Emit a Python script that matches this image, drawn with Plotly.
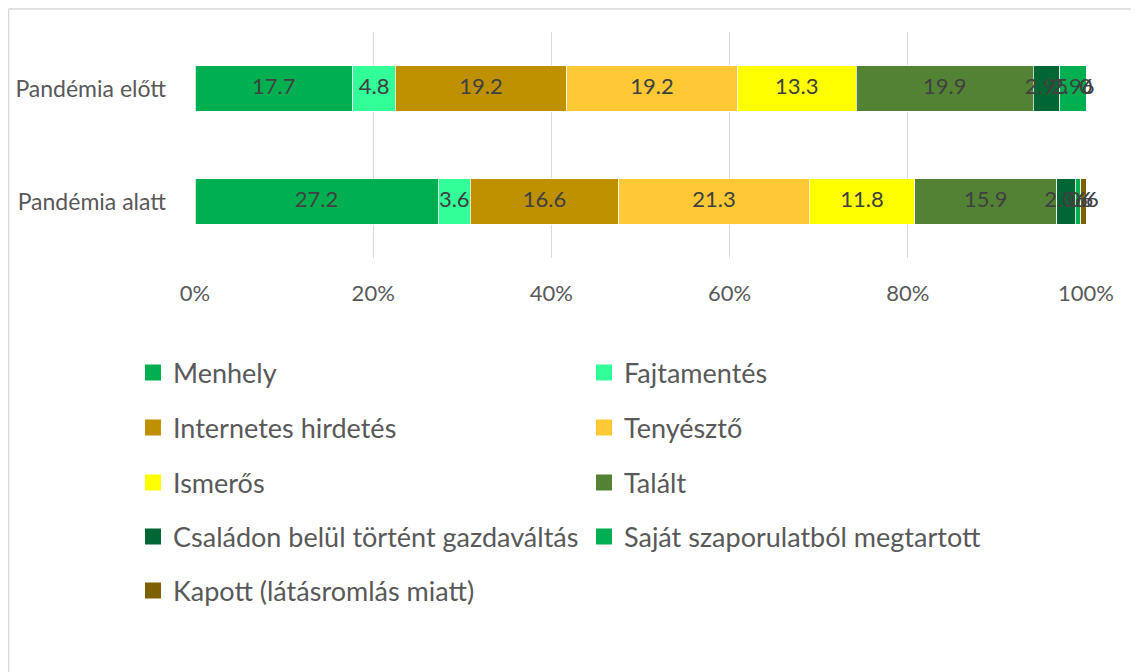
import plotly.graph_objects as go

categories = ["Pandémia előtt", "Pandémia alatt"]

series_names = [
    "Menhely", "Fajtamentés", "Internetes hirdetés", "Tenyésztő", "Ismerős",
    "Talált", "Családon belül történt gazdaváltás", "Saját szaporulatból megtartott",
    "Kapott (látásromlás miatt)",
]
menhely = [17.7, 27.2]
fajtamentes = [4.8, 3.6]
internetes = [19.2, 16.6]
tenyeszto = [19.2, 21.3]
ismeros = [13.3, 11.8]
talalt = [19.9, 15.9]
csaladon = [2.95, 2.06]
sajat = [2.96, 0.6]
kapott = [0, 0.6]

x_ticks = [0, 20, 40, 60, 80, 100]
x_tick_labels = ["0%", "20%", "40%", "60%", "80%", "100%"]

series_values = [menhely, fajtamentes, internetes, tenyeszto, ismeros,
                 talalt, csaladon, sajat, kapott]
colors = ["#00B050", "#33FF99", "#BF9000", "#FFC935", "#FFFF00",
          "#548235", "#006633", "#00B050", "#7F6000"]

FONT = "Lato"
GREY = "#595959"

# figure is placed by the page 8px from the top-left corner
W, H = 1131, 664
L, R, T, B = 187, 53, 24, 414
PW, PH = W - L - R, H - T - B

totals = [sum(vals[i] for vals in series_values) for i in range(len(categories))]

fig = go.Figure()
cum = [0.0] * len(categories)
label_x, label_y, label_t = [], [], []
for name, vals, col in zip(series_names, series_values, colors):
    share = [v / t * 100 for v, t in zip(vals, totals)]
    fig.add_trace(go.Bar(
        y=categories, x=share, orientation="h", name=name,
        marker=dict(color=col, line=dict(color="white", width=0.75)),
        showlegend=False, hoverinfo="skip",
    ))
    for i, c in enumerate(categories):
        label_x.append(cum[i] + share[i] / 2)
        label_y.append(c)
        label_t.append(f"{vals[i]:g}")
        cum[i] += share[i]

fig.add_trace(go.Scatter(
    x=label_x, y=label_y, text=label_t, mode="text",
    textfont=dict(family=FONT, size=22, color="#404040"),
    showlegend=False, hoverinfo="skip", cliponaxis=False,
))

# legend: one legend per entry, laid out in two columns
row_y = [365, 420, 475, 529, 583]
col_x = [125, 576]
legend_layout = {}
for k, name in enumerate(series_names):
    lg = "legend" if k == 0 else f"legend{k + 1}"
    row, col = k // 2, k % 2
    fig.add_trace(go.Scatter(
        x=[None], y=[None], mode="markers", name=name,
        marker=dict(symbol="square", size=17, color=colors[k]),
        legend=lg, showlegend=True,
    ))
    legend_layout[lg] = dict(
        orientation="v", xref="container", yref="container",
        x=col_x[col] / W, y=1 - row_y[row] / H,
        xanchor="left", yanchor="middle",
        font=dict(family=FONT, size=27, color=GREY),
        bgcolor="rgba(0,0,0,0)", itemclick=False, itemdoubleclick=False,
    )

top_y = (PH + T - 1.0) / PH
left_x = (0.5 - L) / PW

fig.update_layout(
    width=W, height=H,
    margin=dict(l=L, r=R, t=T, b=B, autoexpand=False),
    paper_bgcolor="white", plot_bgcolor="white",
    barmode="stack", bargap=0.6,
    font=dict(family=FONT, color=GREY),
    xaxis=dict(
        range=[0, 100], tickvals=x_ticks, ticktext=x_tick_labels,
        showgrid=True, gridcolor="#D9D9D9", gridwidth=1, zeroline=False,
        showline=False, ticks="", ticklabelstandoff=20,
        tickfont=dict(family=FONT, size=22, color=GREY), fixedrange=True,
    ),
    yaxis=dict(
        type="category", autorange="reversed", showgrid=False, zeroline=False,
        showline=False, ticks="", ticklabelstandoff=28,
        tickfont=dict(family=FONT, size=23, color=GREY), fixedrange=True,
    ),
    shapes=[
        dict(type="line", xref="paper", yref="paper", x0=left_x, x1=1.2,
             y0=top_y, y1=top_y, line=dict(color="#D9D9D9", width=1.5)),
        dict(type="line", xref="paper", yref="paper", x0=left_x, x1=left_x,
             y0=top_y, y1=-2.0, line=dict(color="#D9D9D9", width=1.5)),
    ],
    **legend_layout,
)

fig.write_html("out.html")
